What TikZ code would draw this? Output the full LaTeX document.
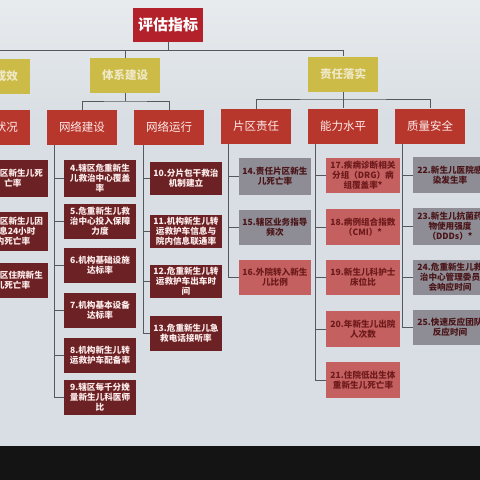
\documentclass[tikz,border=0pt]{standalone}
\usepackage{fontspec}
\newfontfamily\cjk{Noto Sans CJK SC}
\definecolor{bgc}{HTML}{D8DEE3}
\definecolor{titlec}{HTML}{B3222B}
\definecolor{yelc}{HTML}{CDBB48}
\definecolor{yeltxt}{HTML}{EEE8C4}
\definecolor{redc}{HTML}{B8372C}
\definecolor{maroonc}{HTML}{6C2224}
\definecolor{greyc}{HTML}{8E8C95}
\definecolor{pinkc}{HTML}{C4605F}
\definecolor{linec}{HTML}{55595E}
\definecolor{darktxt}{HTML}{4A1518}
\definecolor{pinktxt}{HTML}{6E1A1C}
\tikzset{
  every node/.style={inner sep=0pt, align=center},
  titlebox/.style={fill=titlec, text=white, minimum width=70pt, minimum height=34pt, font=\cjk\bfseries\fontsize{15}{17}\selectfont},
  yelbox/.style={fill=yelc, text=yeltxt, minimum width=70pt, minimum height=35pt, font=\cjk\bfseries\fontsize{11.5}{13}\selectfont},
  redbox/.style={fill=redc, text=white!92!red, minimum width=70pt, minimum height=35pt, font=\cjk\fontsize{11.5}{13}\selectfont},
  leaf/.style={minimum width=72pt, font=\cjk\bfseries\fontsize{8.6}{10}\selectfont},
  mbox/.style={leaf, fill=maroonc, text=white!93!red},
  gbox/.style={leaf, fill=greyc, text=darktxt, minimum width=72pt},
  pbox/.style={leaf, fill=pinkc, text=pinktxt, minimum width=74pt},
  gbox2/.style={gbox, minimum width=74pt},
  conn/.style={draw=linec, line width=0.8pt},
}
\begin{document}
\begin{tikzpicture}[x=1pt,y=-1pt]
\useasboundingbox (0,0) rectangle (480,480);
\clip (0,0) rectangle (480,480);
\fill[bgc] (0,0) rectangle (480,446);
\fill[top color=bgc!60!white, bottom color=bgc] (0,0) rectangle (480,120);
\fill[black!92] (0,446) rectangle (480,480);

% top levels
\node[titlebox] (title) at (168,25) {评估指标};
\node[yelbox] (yl) at (-5,76) {工作成效};
\node[yelbox] (sys) at (125,75.5) {体系建设};
\node[yelbox] (resp) at (343,74) {责任落实};

\node[redbox] (st) at (-5,127.5) {健康状况};
\node[redbox] (net1) at (82,127.5) {网络建设};
\node[redbox] (net2) at (169,127.5) {网络运行};
\node[redbox] (pq) at (256,126.5) {片区责任};
\node[redbox] (cap) at (343,126) {能力水平};
\node[redbox] (qs) at (430,126) {质量安全};

% connectors top
\coordinate (j1) at (168,50);
\coordinate (jl) at (-20,50);
\coordinate (jr) at (343,50);
\draw[conn] (title.south) -- (j1);
\draw[conn] (jl) -- (jr) -- (resp.north);
\draw[conn] (sys.north) -- (sys.north |- j1);
\draw[conn] (yl.north) -- (yl.north |- j1);
\coordinate (h1) at (125,101);
\draw[conn] (sys.south) -- (h1);
\draw[conn] (net1.north) |- (h1) -| (net2.north);
\coordinate (h2) at (343,99);
\draw[conn] (resp.south) -- (h2);
\draw[conn] (pq.north) |- (h2) -| (qs.north);
\draw[conn] (h2) -- (cap.north);

% left column (cut off)
\node[mbox, minimum width=70pt, minimum height=37pt] (l1) at (13,178.5) {1.辖区新生儿死\\亡率};
\node[mbox, minimum width=70pt, minimum height=39pt] (l2) at (13,231) {2.辖区新生儿因\\窒息24小时\\内死亡率};
\node[mbox, minimum width=70pt, minimum height=35pt] (l3) at (13,280.5) {3.辖区住院新生\\儿死亡率};

% network construction
\node[mbox, minimum height=37pt] (b4) at (100,178.5) {4.辖区危重新生\\儿救治中心覆盖\\率};
\node[mbox, minimum height=35pt] (b5) at (100,221) {5.危重新生儿救\\治中心投入保障\\力度};
\node[mbox, minimum height=35pt] (b6) at (100,265.5) {6.机构基础设施\\达标率};
\node[mbox, minimum height=35pt] (b7) at (100,310.5) {7.机构基本设备\\达标率};
\node[mbox, minimum height=35pt] (b8) at (100,355.5) {8.机构新生儿转\\运救护车配备率};
\node[mbox, minimum height=35pt] (b9) at (100,397.5) {9.辖区每千分娩\\量新生儿科医师\\比};
\coordinate (c1) at (54,145);
\draw[conn] (c1) |- (b9.west);
\foreach \b in {b4,b5,b6,b7,b8} \draw[conn] (c1 |- \b.west) -- (\b.west);

% network operation
\node[mbox, minimum height=33pt] (b10) at (186,178.5) {10.分片包干救治\\机制建立};
\node[mbox, minimum height=33pt] (b11) at (186,231.5) {11.机构新生儿转\\运救护车信息与\\院内信息联通率};
\node[mbox, minimum height=33pt] (b12) at (186,281) {12.危重新生儿转\\运救护车出车时\\间};
\node[mbox, minimum height=35pt] (b13) at (186,333.5) {13.危重新生儿急\\救电话接听率};
\coordinate (c2) at (143,145);
\draw[conn] (c2) |- (b13.west);
\foreach \b in {b10,b11,b12} \draw[conn] (c2 |- \b.west) -- (\b.west);

% area responsibility
\node[gbox, minimum height=37pt] (b14) at (275,176.5) {14.责任片区新生\\儿死亡率};
\node[gbox, minimum height=35pt] (b15) at (275,227.5) {15.辖区业务指导\\频次};
\node[pbox, minimum width=72pt, minimum height=35pt] (b16) at (275,277.5) {16.外院转入新生\\儿比例};
\coordinate (c3) at (228,144);
\draw[conn] (c3) |- (b16.west);
\foreach \b in {b14,b15} \draw[conn] (c3 |- \b.west) -- (\b.west);

% capability
\node[pbox, minimum height=35pt] (b17) at (363,175.5) {17.疾病诊断相关\\分组（DRG）病\\组覆盖率*};
\node[pbox, minimum height=36pt] (b18) at (363,227) {18.病例组合指数\\（CMI）*};
\node[pbox, minimum height=35pt] (b19) at (363,277.5) {19.新生儿科护士\\床位比};
\node[pbox, minimum height=36pt] (b20) at (363,329) {20.年新生儿出院\\人次数};
\node[pbox, minimum height=36pt] (b21) at (363,380) {21.住院低出生体\\重新生儿死亡率};
\coordinate (c4) at (315,144);
\draw[conn] (c4) |- (b21.west);
\foreach \b in {b17,b18,b19,b20} \draw[conn] (c4 |- \b.west) -- (\b.west);

% quality & safety
\node[gbox2, minimum height=36pt] (b22) at (450,175) {22.新生儿医院感\\染发生率};
\node[gbox2, minimum height=37pt] (b23) at (450,226.5) {23.新生儿抗菌药\\物使用强度\\（DDDs）*};
\node[gbox2, minimum height=35pt] (b24) at (450,277.5) {24.危重新生儿救\\治中心管理委员\\会响应时间};
\node[gbox2, minimum height=35pt] (b25) at (450,327.5) {25.快速反应团队\\反应时间};
\coordinate (c5) at (402,144);
\draw[conn] (c5) |- (b25.west);
\foreach \b in {b22,b23,b24} \draw[conn] (c5 |- \b.west) -- (\b.west);
\end{tikzpicture}
\end{document}
